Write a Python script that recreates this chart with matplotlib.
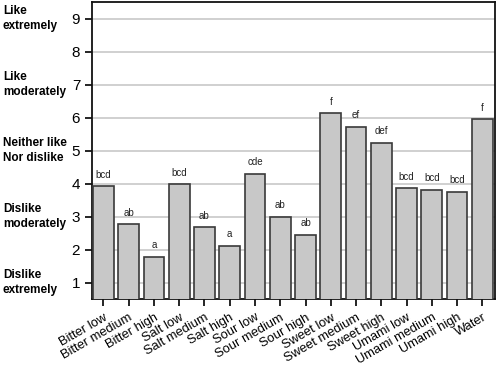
import numpy as np
import matplotlib
matplotlib.use("Agg")
import matplotlib.pyplot as plt
import matplotlib.transforms as mtransforms

plt.rcParams['font.family'] = ['Liberation Sans', 'DejaVu Sans']

# data
categories = ['Bitter low', 'Bitter medium', 'Bitter high', 'Salt low', 'Salt medium',
              'Salt high', 'Sour low', 'Sour medium', 'Sour high', 'Sweet low',
              'Sweet medium', 'Sweet high', 'Umami low', 'Umami medium', 'Umami high', 'Water']
scores = [3.91, 2.76, 1.78, 3.98, 2.67, 2.12, 4.30, 3.00, 2.44, 6.13,
          5.72, 5.23, 3.86, 3.81, 3.74, 5.94]
letters = ['bcd', 'ab', 'a', 'bcd', 'ab', 'a', 'cde', 'ab', 'ab', 'f',
           'ef', 'def', 'bcd', 'bcd', 'bcd', 'f']
y_ticks = [1, 2, 3, 4, 5, 6, 7, 8, 9]
scale_labels = ['Like\nextremely', 'Like\nmoderately', 'Neither like\nNor dislike',
                'Dislike\nmoderately', 'Dislike\nextremely']
scale_pos = [9, 7, 5, 3, 1]

fig = plt.figure(figsize=(4.96, 3.68), dpi=100)
ax = fig.add_axes([0.1855, 0.1875, 0.8125, 0.807])

x = np.arange(len(categories))
ax.bar(x, scores, width=0.82, color='#c8c8c8', edgecolor='#3a3a3a', linewidth=1.2, zorder=3)

for xi, v, lab in zip(x, scores, letters):
    ax.text(xi, v + 0.2, lab, ha='center', va='bottom', fontsize=7, color='#222222')

ax.set_ylim(0.5, 9.5)
ax.set_xlim(-0.45, 15.5)
ax.set_yticks(y_ticks)
ax.tick_params(axis='y', labelsize=11, length=5, width=1.2, direction='out')
ax.set_xticks(x)
ax.set_xticklabels(categories, rotation=30, ha='right', rotation_mode='anchor', fontsize=9.3)
ax.tick_params(axis='x', length=5, width=1.2, direction='out', pad=4)
ax.yaxis.grid(True, color='#c8c8c8', linewidth=1.2, zorder=0)
ax.set_axisbelow(True)
for s in ax.spines.values():
    s.set_linewidth(1.3)
    s.set_color('#111111')

# left hand hedonic scale labels
trans = mtransforms.blended_transform_factory(fig.transFigure, ax.transData)
for lab, yv in zip(scale_labels, scale_pos):
    ax.text(0.006, yv, lab, transform=trans, ha='left', va='center',
            fontsize=8.5, fontweight='bold', linespacing=1.35, clip_on=False)

fig.savefig('out.png', dpi=100)
